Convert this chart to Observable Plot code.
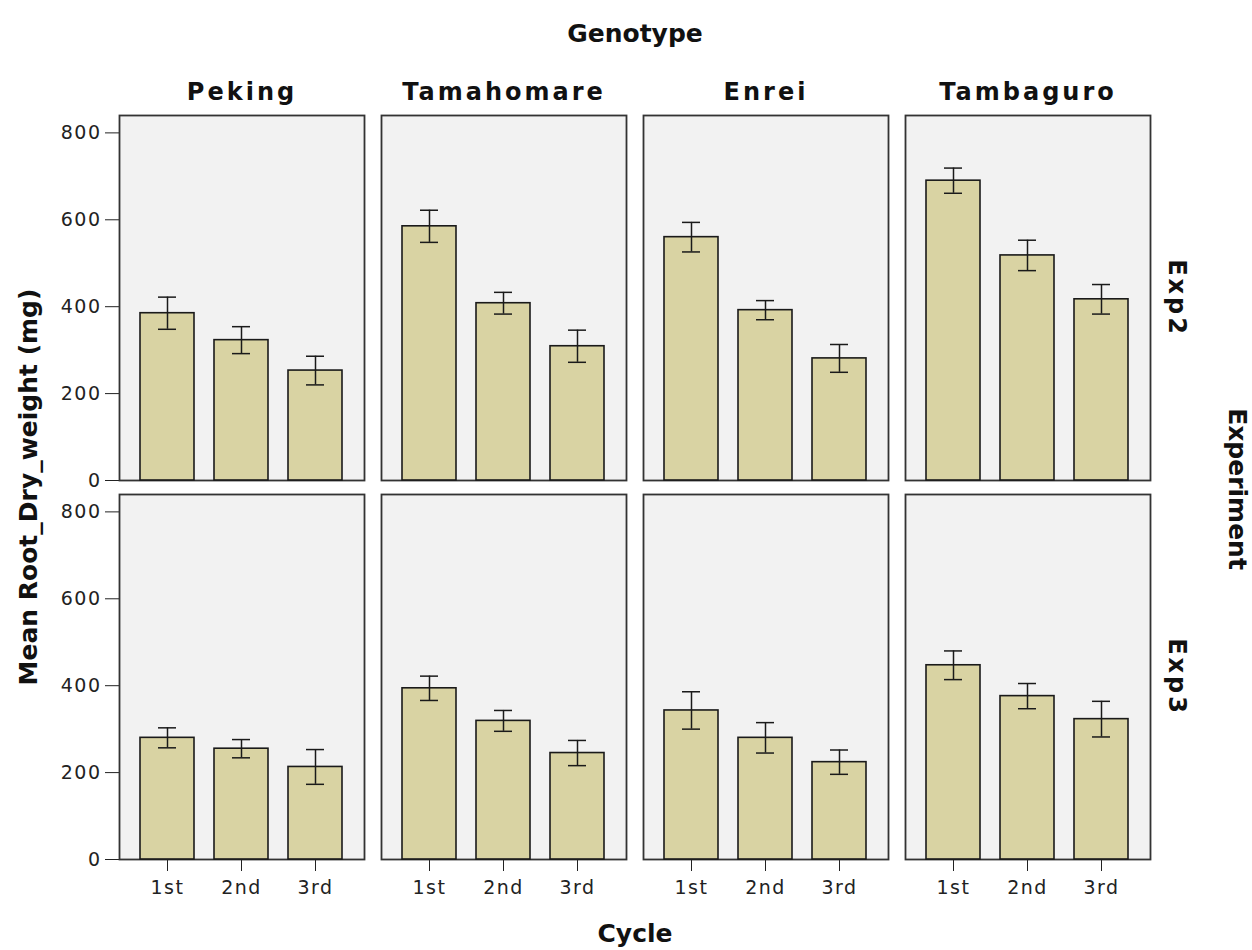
<!DOCTYPE html>
<html>
<head>
<meta charset="utf-8">
<script src="https://cdn.jsdelivr.net/npm/d3@7"></script>
<script src="https://cdn.jsdelivr.net/npm/@observablehq/plot@0.6"></script>
<style>
  html, body { margin: 0; padding: 0; background: #ffffff; }
  #chart { width: 1252px; height: 950px; }
  svg g[font-size="24"] text { letter-spacing: 3px; }
  svg [aria-label^="y-axis"] text, svg [aria-label^="x-axis"] text { letter-spacing: 1.5px; }
</style>
</head>
<body>
<div id="chart"></div>
<script>
// ---- data ----
const genotypes = ["Peking", "Tamahomare", "Enrei", "Tambaguro"];
const experiments = ["Exp2", "Exp3"];
const cycles = ["1st", "2nd", "3rd"];

// mean root dry weight (mg), per genotype, per cycle
const exp2Means = [[385, 323, 253], [585, 408, 309], [560, 392, 281], [690, 518, 417]];
const exp2Errors = [[37, 31, 33], [37, 25, 37], [34, 22, 32], [29, 35, 34]];
const exp3Means = [[280, 255, 213], [394, 319, 245], [343, 280, 224], [447, 376, 323]];
const exp3Errors = [[23, 21, 40], [28, 24, 29], [43, 35, 28], [33, 29, 41]];

const yTicks = [0, 200, 400, 600, 800];

// ---- table for the library ----
const rows = [];
experiments.forEach((exp, ei) => {
  const means = ei === 0 ? exp2Means : exp3Means;
  const errs = ei === 0 ? exp2Errors : exp3Errors;
  genotypes.forEach((g, gi) => {
    cycles.forEach((c, ci) => {
      rows.push({experiment: exp, genotype: g, cycle: c, mean: means[gi][ci], err: errs[gi][ci]});
    });
  });
});

const barFill = "#d9d3a3";
const ink = "#1a1a1a";

const plot = Plot.plot({
  width: 1252,
  height: 950,
  marginLeft: 118,
  marginRight: 100,
  marginTop: 115,
  marginBottom: 91,
  style: {fontFamily: "DejaVu Sans", fontSize: "19px", color: "#222", background: "#ffffff"},
  fx: {domain: genotypes, paddingInner: 0.0635, paddingOuter: 0, axis: null, label: null},
  fy: {domain: experiments, paddingInner: 0.037, paddingOuter: 0, axis: null, label: null},
  x: {domain: cycles, padding: 0.269, tickSize: 12, tickPadding: 9, label: null},
  y: {domain: [0, 840], ticks: yTicks, tickSize: 14, tickPadding: 4, label: null},
  marks: [
    Plot.frame({fill: "#f2f2f2", stroke: "#333333", strokeWidth: 1.8}),
    Plot.barY(rows, {fx: "genotype", fy: "experiment", x: "cycle", y: "mean",
      fill: barFill, stroke: ink, strokeWidth: 1.6}),
    Plot.ruleX(rows, {fx: "genotype", fy: "experiment", x: "cycle",
      y1: d => d.mean - d.err, y2: d => d.mean + d.err, stroke: ink, strokeWidth: 1.5}),
    Plot.tickY(rows, {fx: "genotype", fy: "experiment", x: "cycle",
      y: d => d.mean - d.err, insetLeft: 18, insetRight: 18, stroke: ink, strokeWidth: 1.5}),
    Plot.tickY(rows, {fx: "genotype", fy: "experiment", x: "cycle",
      y: d => d.mean + d.err, insetLeft: 18, insetRight: 18, stroke: ink, strokeWidth: 1.5}),
    // column (genotype) labels above the top row
    Plot.text(genotypes, {fx: d => d, fy: () => experiments[0], text: d => d,
      frameAnchor: "top", dy: -23, lineAnchor: "middle", textAnchor: "middle",
      fontSize: 24, fontWeight: "bold", fill: "#111"}),
    // row (experiment) labels right of the last column
    Plot.text(experiments, {fy: d => d, fx: () => genotypes[genotypes.length - 1], text: d => d,
      frameAnchor: "right", dx: 26, rotate: 90, lineAnchor: "middle", textAnchor: "middle",
      fontSize: 24, fontWeight: "bold", fill: "#111"})
  ]
});

document.getElementById("chart").appendChild(plot);

// ---- axis titles ----
const svg = d3.select(plot);
const titleStyle = sel => sel.attr("font-family", "DejaVu Sans").attr("font-weight", "bold")
  .attr("font-size", 25).attr("fill", "#111").attr("text-anchor", "middle");

svg.append("text").call(titleStyle).attr("x", 635).attr("y", 42).text("Genotype");
svg.append("text").call(titleStyle).attr("x", 635).attr("y", 942).text("Cycle");
svg.append("text").call(titleStyle)
  .attr("transform", "translate(37,487) rotate(-90)").text("Mean Root_Dry_weight (mg)");
svg.append("text").call(titleStyle)
  .attr("transform", "translate(1229,489) rotate(90)").text("Experiment");
</script>
</body>
</html>
